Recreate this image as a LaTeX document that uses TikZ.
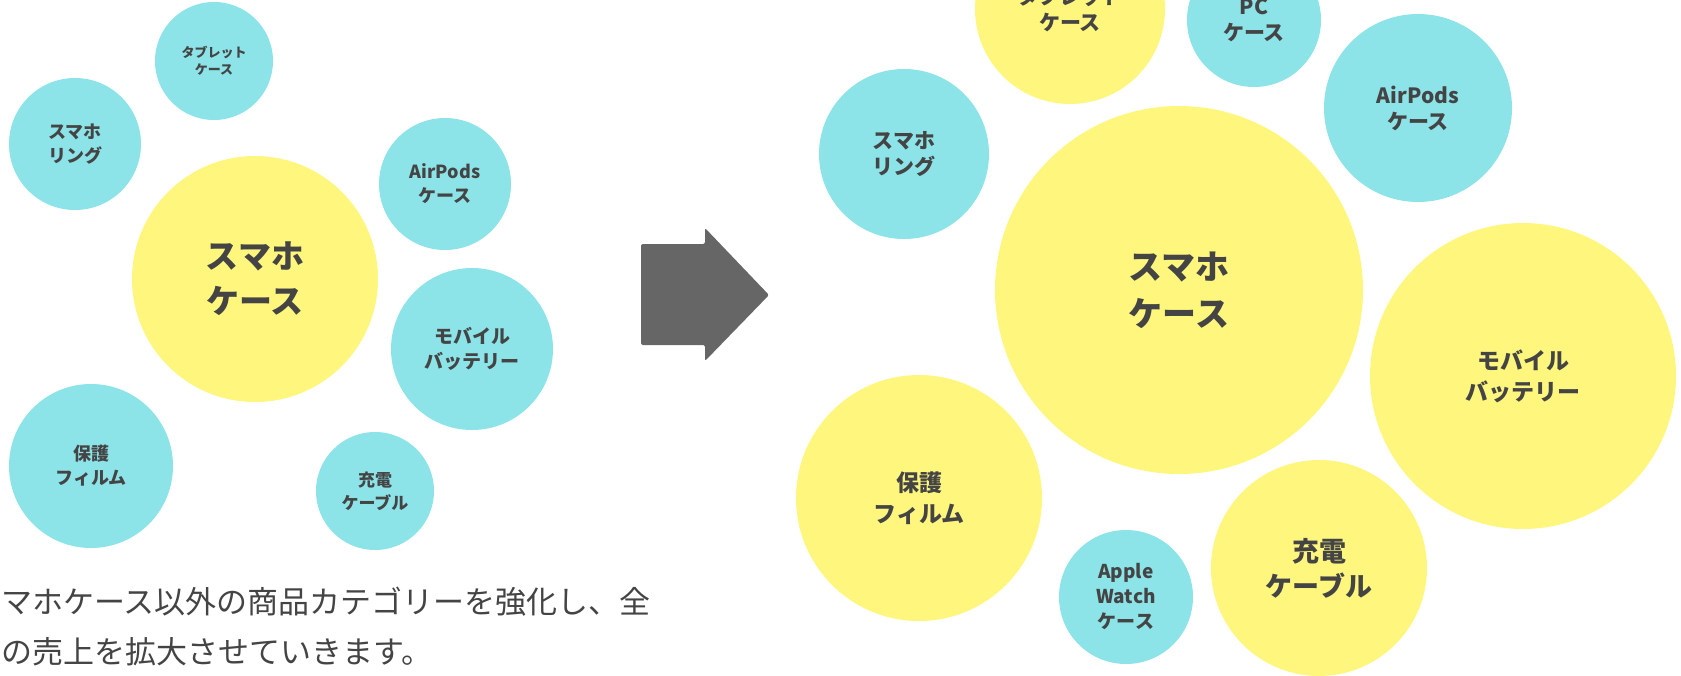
\documentclass[tikz,border=0pt]{standalone}
\usepackage{fontspec}
\setmainfont{Noto Sans CJK JP}
\usetikzlibrary{positioning}

\definecolor{bubbleyellow}{HTML}{FFF67E}
\definecolor{bubblecyan}{HTML}{8CE3E8}
\definecolor{labelgray}{HTML}{444444}
\definecolor{arrowgray}{HTML}{666666}

\newcommand{\lblsize}[2]{\fontsize{#1}{#2}\selectfont}

\begin{document}
\begin{tikzpicture}[x=1pt, y=-1pt,
  bubble/.style={circle, inner sep=0pt, align=center, text=labelgray},
  yb/.style={bubble, fill=bubbleyellow},
  cb/.style={bubble, fill=bubblecyan}]

\useasboundingbox (0,0) rectangle (1681,675);

% Today: the categories around the phone case
\node[cb, minimum size=118, font=\bfseries\lblsize{13}{17}] (tabL) at (214,61) {タブレット\\ケース};
\node[cb, minimum size=132, font=\bfseries\lblsize{18}{24}] (ringL) at (75,144) {スマホ\\リング};
\node[yb, minimum size=246, font=\bfseries\lblsize{33}{45}] (caseL) at (255,279) {スマホ\\ケース};
\node[cb, minimum size=132, font=\bfseries\lblsize{18}{24}] (podsL) at (445,184) {AirPods\\ケース};
\node[cb, minimum size=162, font=\bfseries\lblsize{19}{25}] (battL) at (472,349) {モバイル\\バッテリー};
\node[cb, minimum size=164, font=\bfseries\lblsize{18}{24}] (filmL) at (91,466) {保護\\フィルム};
\node[cb, minimum size=118, font=\bfseries\lblsize{17}{23}] (cableL) at (375,491) {充電\\ケーブル};

% Caption under the left cluster
\node[anchor=west, text=labelgray, font=\lblsize{31}{50}, align=left] (note) at (-2,627)
  {マホケース以外の商品カテゴリーを強化し、全\\の売上を拡大させていきます。};

% The block arrow
\fill[arrowgray, rounded corners=2pt] (641,244) -- (705,244) -- (705,228) -- (769,295)
  -- (705,361) -- (705,345) -- (641,345) -- cycle;

% Tomorrow: the grown categories
\node[yb, minimum size=190, font=\bfseries\lblsize{21}{26}] (tabR) at (1070,9) {タブレット\\ケース};
\node[cb, minimum size=134, font=\bfseries\lblsize{21}{26}] (pcR) at (1254,20) {PC\\ケース};
\node[cb, minimum size=188, font=\bfseries\lblsize{21}{26}] (podsR) at (1418,108) {AirPods\\ケース};
\node[cb, minimum size=170, font=\bfseries\lblsize{21}{26}] (ringR) at (904,154) {スマホ\\リング};
\node[yb, minimum size=368, font=\bfseries\lblsize{34}{47}] (caseR) at (1179,290) {スマホ\\ケース};
\node[yb, minimum size=306, font=\bfseries\lblsize{23}{31}] (battR) at (1523,376) {モバイル\\バッテリー};
\node[yb, minimum size=246, font=\bfseries\lblsize{23}{31}] (filmR) at (919,498) {保護\\フィルム};
\node[cb, minimum size=134, font=\bfseries\lblsize{19}{25}] (watchR) at (1126,597) {Apple\\Watch\\ケース};
\node[yb, minimum size=216, font=\bfseries\lblsize{27}{35}] (cableR) at (1319,568) {充電\\ケーブル};

\end{tikzpicture}
\end{document}
